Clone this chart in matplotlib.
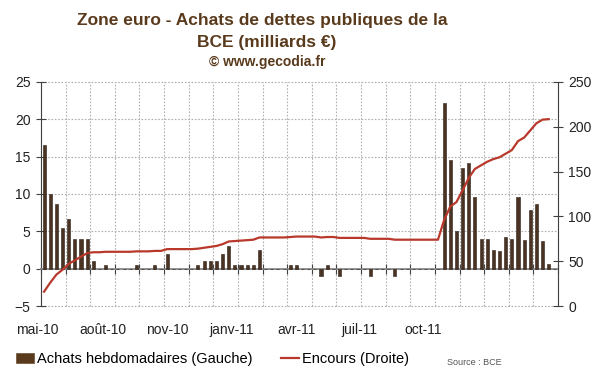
import numpy as np
import matplotlib
matplotlib.use("Agg")
import matplotlib.pyplot as plt
from matplotlib.transforms import blended_transform_factory

plt.rcParams['font.family'] = ['Liberation Sans', 'DejaVu Sans']

# achats hebdomadaires (mds EUR), une valeur par semaine depuis mai 2010
achats = [16.6, 10.0, 8.6, 5.5, 6.6, 4.0, 4.0, 4.0, 1.0, 0, 0.5, 0, 0, 0, 0, 0.5,
          0, 0, 0.5, 0, 2.0, 0, 0, 0, 0, 0.5, 1.0, 1.0, 1.0, 2.0, 3.0, 0.5,
          0.5, 0.5, 0.5, 2.5, 0, 0, 0, 0, 0.5, 0.5, 0, 0, 0, -1.0, 0.5, 0,
          -1.0, 0, 0, 0, 0, -1.0, 0, 0, 0, -1.0, 0, 0, 0, 0, 0, 0,
          0, 22.2, 14.6, 5.0, 13.5, 14.1, 9.6, 4.0, 4.0, 2.5, 2.3, 4.2, 4.0, 9.6,
          3.9, 7.9, 8.7, 3.7, 0.6, 0]

# encours total (droite)
encours = [16, 26, 35, 40.5, 47, 51, 55, 59, 60, 60, 60.5, 60.5, 60.5, 60.5, 60.5, 61,
           61, 61, 61.5, 61.5, 63.5, 63.5, 63.5, 63.5, 63.5, 64, 65, 66, 67, 69, 72, 72.5,
           73, 73.5, 74, 76.5, 76.5, 76.5, 76.5, 76.5, 77, 77.5, 77.5, 77.5, 77.5, 76.5, 77, 77,
           76, 76, 76, 76, 76, 75, 75, 75, 75, 74, 74, 74, 74, 74, 74, 74,
           74, 96, 111, 116, 129, 143, 153, 157, 161, 164, 166, 170, 174, 184,
           188, 196, 204, 208, 208.5]

mois_labels = ["mai-10", "août-10", "nov-10", "janv-11", "avr-11", "juil-11", "oct-11"]
mois_pos = [-0.6, 10.1, 20.5, 30.9, 41.5, 51.7, 62.1]

brun = "#5a3a1c"
rouge = "#b8392c"
gris = "#808080"

fig = plt.figure(figsize=(6, 3.72), dpi=100)
ax = fig.add_axes([0.0683, 0.1774, 0.8617, 0.6022])
ax2 = ax.twinx()

x = np.arange(len(achats)) + 0.5
bars = ax.bar(x, achats, width=0.5, color="#4a3322", edgecolor="#2c1e14", linewidth=0.4,
              zorder=3, label="Achats hebdomadaires (Gauche)")
xl = np.arange(len(encours)) + 0.5
ln, = ax2.plot(xl, encours, color=rouge, lw=1.6, zorder=4, label="Encours (Droite)")

ax.set_xlim(0, len(achats))
ax.set_ylim(-5, 25)
ax2.set_ylim(0, 250)
ax.set_yticks(range(-5, 26, 5))
ax2.set_yticks(range(0, 251, 50))

grille = np.arange(0, len(achats) + 1, 4)
ax.set_xticks(grille)
ax.set_xticklabels([])
ax.grid(True, ls=(0, (1.5, 1.5)), color="#b0b0b0", lw=0.8, zorder=0, clip_on=False)
ax.set_axisbelow(True)

ax.spines["top"].set_visible(False)
ax2.spines["top"].set_visible(False)
ax2.spines["bottom"].set_visible(False)
ax2.spines["left"].set_visible(False)
ax.spines["right"].set_visible(False)
ax.spines["bottom"].set_position(("data", 0))
ax.spines["bottom"].set_color(gris)
ax.spines["bottom"].set_linewidth(1.2)
ax.spines["left"].set_color("#404040")
ax2.spines["right"].set_color("#404040")

ax.tick_params(axis="x", direction="inout", length=7, color="#404040", width=0.8)
ax.tick_params(axis="y", direction="inout", length=7, color="#404040", width=0.8,
               labelsize=10, labelcolor="#222222", pad=4)
ax2.tick_params(axis="y", direction="inout", length=7, color="#404040", width=0.8,
                labelsize=10, labelcolor="#222222", pad=4)

trans = blended_transform_factory(ax.transData, ax.transAxes)
for p, lab in zip(mois_pos, mois_labels):
    ax.text(p, -0.105, lab, transform=trans, ha="center", va="center",
            fontsize=10, color="#222222", clip_on=False)

fig.text(0.437, 0.945, "Zone euro - Achats de dettes publiques de la", ha="center", va="center",
         fontsize=12.5, fontweight="bold", color=brun)
fig.text(0.445, 0.887, "BCE (milliards €)", ha="center", va="center",
         fontsize=12.5, fontweight="bold", color=brun)
fig.text(0.445, 0.833, "© www.gecodia.fr", ha="center", va="center",
         fontsize=10, fontweight="bold", color=brun)

leg = fig.legend([bars, ln], ["Achats hebdomadaires (Gauche)", "Encours (Droite)"],
                 loc="center left", bbox_to_anchor=(0.027, 0.035), ncol=2, frameon=False,
                 fontsize=10.5, handlelength=1.2, handletextpad=0.2, columnspacing=2.0,
                 borderpad=0, borderaxespad=0)
leg.legend_handles[0].set_facecolor(brun)
leg.legend_handles[0].set_edgecolor(brun)
fig.text(0.745, 0.025, "Source : BCE", fontsize=6.5, color="#555555", ha="left", va="center")

fig.savefig("out.png", dpi=100)
